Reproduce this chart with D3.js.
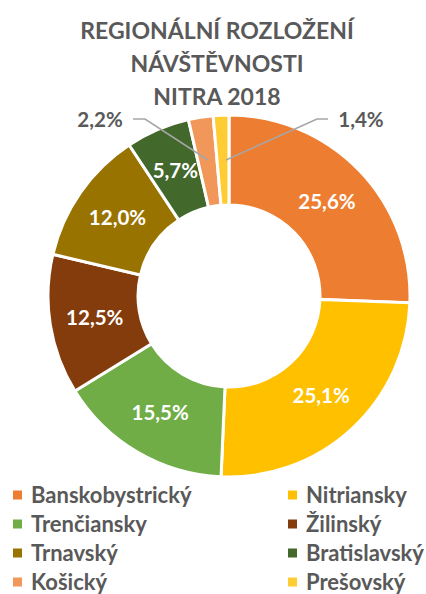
<!DOCTYPE html>
<html><head><meta charset="utf-8">
<script src="https://cdn.jsdelivr.net/npm/d3@7"></script>
<style>body{margin:0;background:#fff}svg{display:block}</style>
</head><body>
<script>
const categories = ["Banskobystrický","Nitriansky","Trenčiansky","Žilinský","Trnavský","Bratislavský","Košický","Prešovský"];
const values = [25.6, 25.1, 15.5, 12.5, 12.0, 5.7, 2.2, 1.4];
const colors = ["#ED7D31","#FFC000","#70AD47","#843C0C","#997300","#43682B","#F1975A","#FFCD33"];
const titleLines = ["REGIONÁLNÍ ROZLOŽENÍ","NÁVŠTĚVNOSTI","NITRA 2018"];

const W=426,H=594, font="Lato, 'Open Sans', sans-serif";
const svg=d3.select("body").append("svg").attr("width",W).attr("height",H);
svg.append("rect").attr("width",W).attr("height",H).attr("fill","#fff");

svg.append("g").selectAll("text").data(titleLines).join("text")
  .attr("x",217).attr("y",(d,i)=>39+i*33).attr("text-anchor","middle")
  .attr("font-family",font).attr("font-weight","bold").attr("font-size",23)
  .attr("fill","#595959").text(d=>d);

const cx=229, cy=296, R=181, r0=91;
const data=categories.map((c,i)=>({c,v:values[i],col:colors[i]}));
const pie=d3.pie().value(d=>d.v).sort(null);
const arcs=pie(data);
const arc=d3.arc().innerRadius(r0).outerRadius(R);
const g=svg.append("g").attr("transform",`translate(${cx},${cy})`);
g.selectAll("path").data(arcs).join("path").attr("d",arc)
  .attr("fill",d=>d.data.col).attr("stroke","#fff").attr("stroke-width",3);

const fmt=v=>v.toFixed(1).replace(".",",")+"%";
const mid=d3.arc().innerRadius((R+r0)/2).outerRadius((R+r0)/2);
g.selectAll("text.in").data(arcs.filter(d=>d.data.v>5)).join("text").attr("class","in")
  .attr("x",d=>mid.centroid(d)[0]).attr("y",d=>mid.centroid(d)[1]+7)
  .attr("text-anchor","middle").attr("font-family",font).attr("font-weight","bold")
  .attr("font-size",20.5).attr("fill","#fff").text(d=>fmt(d.data.v));

// outside labels for small slices
const outside=[{i:6,tx:-129,ty:-169,path:[[-96,-177],[-84,-177],[-21,-136]]},
               {i:7,tx:132,ty:-169,path:[[99,-177],[88,-177],[-3,-136]]}];
outside.forEach(o=>{
  const a=arcs[o.i];
  g.append("path").attr("d",d3.line()(o.path)).attr("fill","none").attr("stroke","#A6A6A6").attr("stroke-width",1.5);
  g.append("text").attr("x",o.tx).attr("y",o.ty).attr("text-anchor","middle")
    .attr("font-family",font).attr("font-weight","bold").attr("font-size",20.5).attr("fill","#595959")
    .text(fmt(a.data.v));
});

// legend
const lg=svg.append("g");
data.forEach((d,i)=>{
  const col=i%2, row=Math.floor(i/2);
  const x=col?288:13, y=495+row*29;
  lg.append("rect").attr("x",x).attr("y",y-4.5).attr("width",9).attr("height",9).attr("fill",d.col);
  lg.append("text").attr("x",x+18).attr("y",y+8).attr("font-family",font).attr("font-weight","bold")
    .attr("font-size",22).attr("fill","#595959").text(d.c);
});
</script>
</body></html>
